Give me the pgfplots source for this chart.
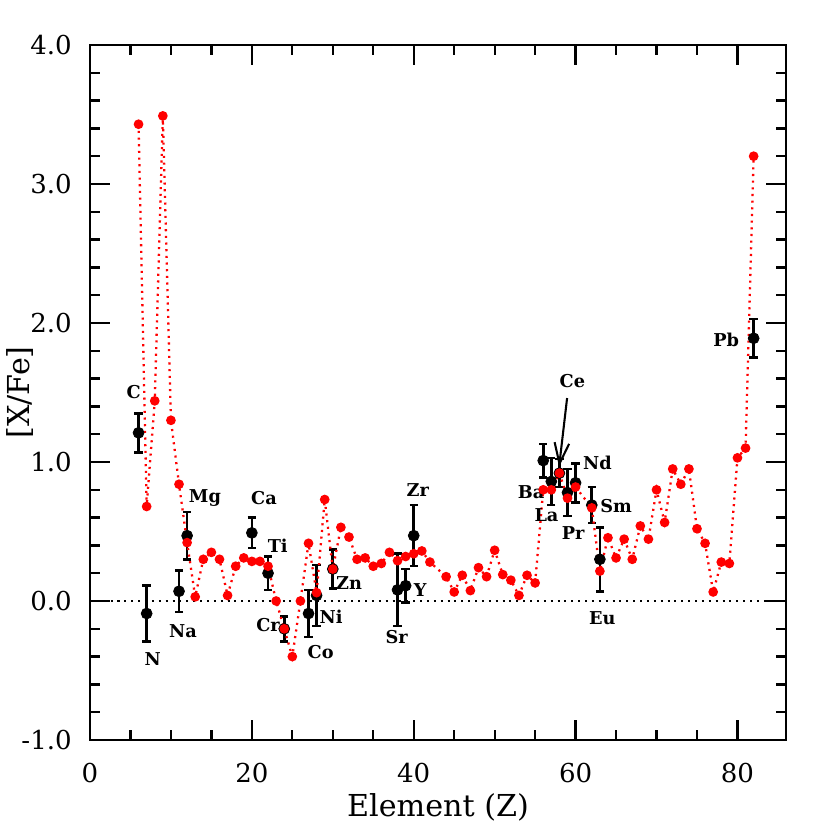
\documentclass[border=0pt]{standalone}
\usepackage{fontspec}
\setmainfont{DejaVu Serif}
\usepackage{pgfplots}
\pgfplotsset{compat=1.18}
\usetikzlibrary{arrows.meta}

% observed abundances: Z, [X/Fe], error
\pgfplotstableread{
z    v      e
6    1.21   0.14
7   -0.09   0.20
11   0.07   0.15
12   0.47   0.17
20   0.49   0.11
22   0.20   0.12
24  -0.20   0.09
27  -0.09   0.17
28   0.04   0.22
30   0.23   0.14
38   0.08   0.26
39   0.11   0.12
40   0.47   0.22
56   1.01   0.12
57   0.86   0.17
58   0.92   0.10
59   0.78   0.17
60   0.85   0.14
62   0.69   0.13
63   0.30   0.23
82   1.89   0.14
}\obs

% model prediction
\pgfplotstableread{
z    v
6    3.43
7    0.68
8    1.44
9    3.49
10   1.30
11   0.84
12   0.42
13   0.03
14   0.30
15   0.35
16   0.30
17   0.04
18   0.25
19   0.31
20   0.285
21   0.285
22   0.25
23   0.00
24  -0.20
25  -0.40
26   0.00
27   0.415
28   0.06
29   0.73
30   0.23
31   0.53
32   0.46
33   0.30
34   0.31
35   0.25
36   0.27
37   0.35
38   0.29
39   0.32
40   0.34
41   0.36
42   0.28
44   0.175
45   0.065
46   0.185
47   0.075
48   0.24
49   0.175
50   0.365
51   0.19
52   0.15
53   0.04
54   0.185
55   0.13
56   0.80
57   0.80
58   0.92
59   0.74
60   0.82
62   0.67
63   0.215
64   0.455
65   0.31
66   0.445
67   0.30
68   0.54
69   0.445
70   0.80
71   0.565
72   0.95
73   0.84
74   0.95
75   0.52
76   0.415
77   0.065
78   0.28
79   0.27
80   1.03
81   1.10
82   3.20
}\model

\begin{document}
\begin{tikzpicture}
\useasboundingbox (-43.2pt,-43.2pt) rectangle (355.2pt,355.2pt);
\begin{axis}[
    scale only axis,
    width=334.1pt, height=333.6pt,
    xmin=0, xmax=86, ymin=-1, ymax=4,
    xtick={0,20,40,60,80}, minor x tick num=3,
    ytick={-1,0,1,2,3,4}, minor y tick num=4,
    major tick length=9.6pt, minor tick length=4.8pt,
    tick style={line width=1.1pt, black},
    axis line style={line width=1.4pt},
    /pgf/number format/assume math mode=true,
    yticklabel style={/pgf/number format/fixed, /pgf/number format/fixed zerofill,
        /pgf/number format/precision=1,
        anchor=east, inner sep=0pt, xshift=-8.6pt},
    xticklabel style={anchor=center, yshift=-15.8pt},
    ticklabel style={font=\fontsize{12.5}{14}\selectfont},
    xlabel={Element (Z)},
    ylabel={[X/Fe]},
    every axis x label/.style={at={(axis description cs:0.5,-0.097)}, anchor=center,
        font=\fontsize{14.5}{16}\selectfont},
    every axis y label/.style={at={(axis description cs:-0.101,0.5)}, anchor=center, rotate=90,
        font=\fontsize{14.5}{16}\selectfont},
    clip=false,
]
\addplot[black, line width=1.1pt, dash pattern=on 1pt off 2.3pt] coordinates {(0,0) (86,0)};

\addplot[black, only marks, mark=*, mark size=2.6pt,
    error bars/.cd, y dir=both, y explicit, error mark=|,
    error bar style={line width=1.3pt},
    error mark options={line width=1.2pt, mark size=2pt}]
    table[x=z, y=v, y error=e] {\obs};

\addplot[red, line width=1.1pt, dash pattern=on 1pt off 2.2pt,
    mark=*, mark size=1.75pt, mark options={solid, fill=red, draw=red}]
    table[x=z, y=v] {\model};

\begin{scope}[every node/.style={font=\bfseries\fontsize{8.5}{10}\selectfont, inner sep=0pt}]
\node at (axis cs:5.4,1.50) {C};
\node at (axis cs:7.75,-0.42) {N};
\node at (axis cs:11.5,-0.22) {Na};
\node at (axis cs:14.2,0.74) {Mg};
\node at (axis cs:21.5,0.74) {Ca};
\node at (axis cs:23.2,0.40) {Ti};
\node at (axis cs:22.0,-0.17) {Cr};
\node at (axis cs:28.5,-0.37) {Co};
\node at (axis cs:29.8,-0.11) {Ni};
\node at (axis cs:32.0,0.13) {Zn};
\node at (axis cs:37.9,-0.26) {Sr};
\node at (axis cs:40.8,0.08) {Y};
\node at (axis cs:40.5,0.80) {Zr};
\node at (axis cs:54.5,0.78) {Ba};
\node at (axis cs:56.4,0.62) {La};
\node at (axis cs:59.6,1.58) {Ce};
\node at (axis cs:59.7,0.49) {Pr};
\node at (axis cs:62.7,0.99) {Nd};
\node at (axis cs:65.0,0.68) {Sm};
\node at (axis cs:63.3,-0.12) {Eu};
\node at (axis cs:78.6,1.88) {Pb};
\end{scope}
\draw[line width=1pt, -{Straight Barb[length=10pt, width=7pt, line width=1pt]}]
    (axis cs:58.95,1.46) -- (axis cs:57.96,0.965);
\end{axis}
\end{tikzpicture}
\end{document}
